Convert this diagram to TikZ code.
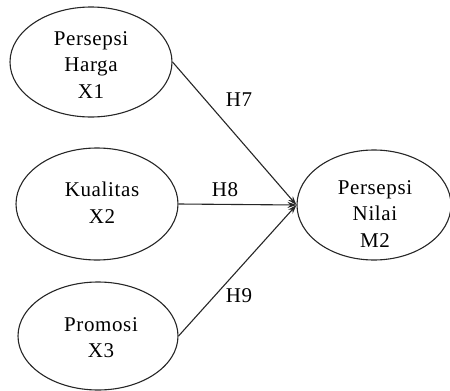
\documentclass[tikz,border=0pt]{standalone}
\usepackage{fontspec}
\setmainfont{Liberation Serif}[LetterSpace=3]
\usetikzlibrary{shapes.geometric,arrows.meta}
\begin{document}
\begin{tikzpicture}[x=1pt,y=-1pt,
  var/.style={draw=black!85, line width=1.1pt, ellipse, inner sep=0pt},
  vtext/.style={anchor=north, inner sep=0pt, align=center, font=\fontsize{21}{26.5}\selectfont},
  hlab/.style={anchor=north, inner sep=0pt, font=\fontsize{21}{26.5}\selectfont},
  path/.style={draw=black!85, line width=1.1pt, -{Stealth[length=9pt,width=6pt]}}]
\useasboundingbox (0,0) rectangle (450,391);
\node[var, minimum width=162pt, minimum height=110pt] (x1) at (91,62) {};
\node[var, minimum width=162pt, minimum height=112pt] (x2) at (97,204) {};
\node[var, minimum width=160pt, minimum height=108pt] (x3) at (98,336) {};
\node[var, minimum width=154pt, minimum height=110pt] (m2) at (374,205) {};
\node[vtext] (t1) at (91,31) {Persepsi\\Harga\\X1};
\node[vtext] (t2) at (102,182) {Kualitas\\X2};
\node[vtext] (t3) at (101,317) {Promosi\\X3};
\node[vtext] (t4) at (375,180) {Persepsi\\Nilai\\M2};
\draw[path] (x1.east) -- (m2.west);
\draw[path] (x2.east) -- (m2.west);
\draw[path] (x3.east) -- (m2.west);
\node[hlab] (h7) at (239,93) {H7};
\node[hlab] (h8) at (225,182) {H8};
\node[hlab] (h9) at (239,288) {H9};
\end{tikzpicture}
\end{document}
